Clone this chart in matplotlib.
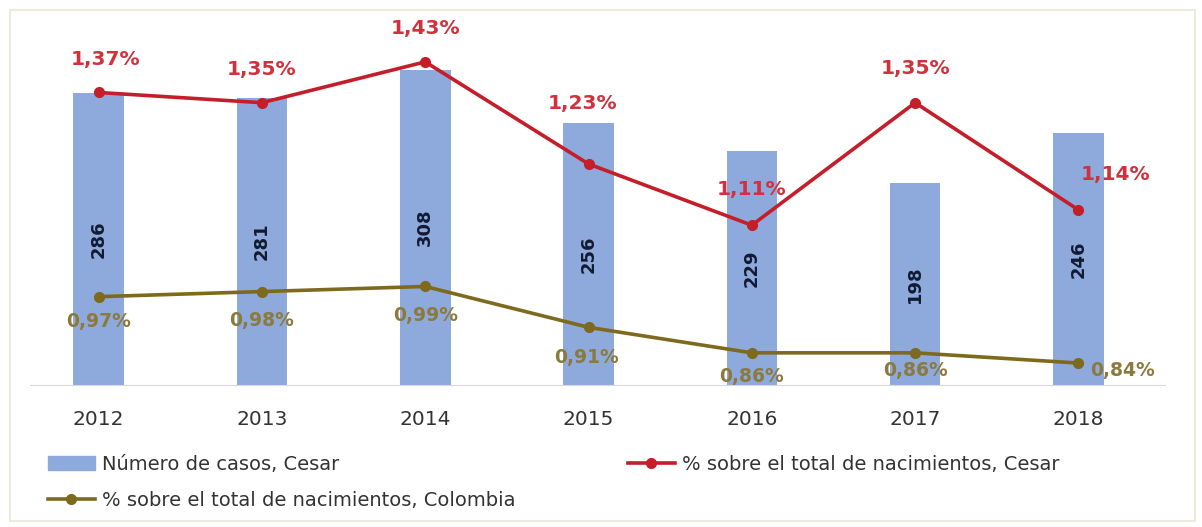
import numpy as np
import matplotlib.pyplot as plt
from matplotlib.patches import Rectangle

# Data
years = ['2012', '2013', '2014', '2015', '2016', '2017', '2018']
casos = [286, 281, 308, 256, 229, 198, 246]
pct_cesar = [1.37, 1.35, 1.43, 1.23, 1.11, 1.35, 1.14]
pct_colombia = [0.97, 0.98, 0.99, 0.91, 0.86, 0.86, 0.84]

bar_color = '#8EA9DB'
red = '#C41E2A'
olive = '#7D6A1C'

plt.rcParams['font.family'] = ['DejaVu Sans']

fig = plt.figure(figsize=(12.02, 5.27), dpi=100)
fig.patches.append(Rectangle((10 / 1202, 6 / 527), 1185 / 1202, 511 / 527,
                             transform=fig.transFigure, fill=False,
                             edgecolor='#EAE6D6', linewidth=1.2))

ax = fig.add_axes([30 / 1202, 142 / 527, 1135 / 1202, 365 / 527])
x = np.arange(len(years))

# Bars
ax.bar(x, casos, width=0.31, color=bar_color, zorder=1)
ax.set_ylim(0, 357)
ax.set_xlim(-0.42, 6.53)
for xi, v in zip(x, casos):
    ax.text(xi, v / 2, str(v), rotation=90, ha='center', va='center',
            fontsize=13, fontweight='bold', color='#111A33')

ax.set_xticks(x)
ax.set_xticklabels(years, fontsize=14.5, color='#333333')
ax.tick_params(axis='x', length=0, pad=18)
ax.set_yticks([])
for s in ['top', 'right', 'left']:
    ax.spines[s].set_visible(False)
ax.spines['bottom'].set_color('#D9D9D9')

# Lines on secondary axis
ax2 = ax.twinx()
ax2.set_ylim(0.797, 1.512)
ax2.set_yticks([])
for s in ['top', 'right', 'left', 'bottom']:
    ax2.spines[s].set_visible(False)

l1, = ax2.plot(x, pct_cesar, color=red, lw=2.6, marker='o', markersize=7,
               label='% sobre el total de nacimientos, Cesar')
l2, = ax2.plot(x, pct_colombia, color=olive, lw=2.6, marker='o', markersize=7,
               label='% sobre el total de nacimientos, Colombia')

# Labels for red line (offsets in pixels)
red_off = [(7, 33), (0, 33), (0, 33), (-6, 60), (0, 36), (0, 34), (37, 35)]
for xi, v, (dx, dy) in zip(x, pct_cesar, red_off):
    ax2.annotate(f'{v:.2f}%'.replace('.', ','), (xi, v), xytext=(dx, dy),
                 textcoords='offset pixels', ha='center', va='center',
                 fontsize=14.5, fontweight='bold', color='#D0313C')

# Labels for olive line
olive_off = [(0, -25), (0, -29), (0, -29), (-2, -30), (0, -24), (0, -18), (44, -7)]
for xi, v, (dx, dy) in zip(x, pct_colombia, olive_off):
    ax2.annotate(f'{v:.2f}%'.replace('.', ','), (xi, v), xytext=(dx, dy),
                 textcoords='offset pixels', ha='center', va='center',
                 fontsize=13.5, fontweight='bold', color='#8C7A3C')

bar_handle = Rectangle((0, 0), 1, 1, color=bar_color)
leg_kw = dict(loc='upper left', frameon=False, fontsize=14, handlelength=2.4,
              handletextpad=0.4, labelspacing=0.85, labelcolor='#333333',
              borderaxespad=0, borderpad=0)
fig.legend([bar_handle, l2],
           ['Número de casos, Cesar', '% sobre el total de nacimientos, Colombia'],
           bbox_to_anchor=(48 / 1202, 1 - 455 / 527), **leg_kw)
fig.legend([l1], ['% sobre el total de nacimientos, Cesar'],
           bbox_to_anchor=(628 / 1202, 1 - 455 / 527), **leg_kw)

plt.savefig('out.png', dpi=100)
